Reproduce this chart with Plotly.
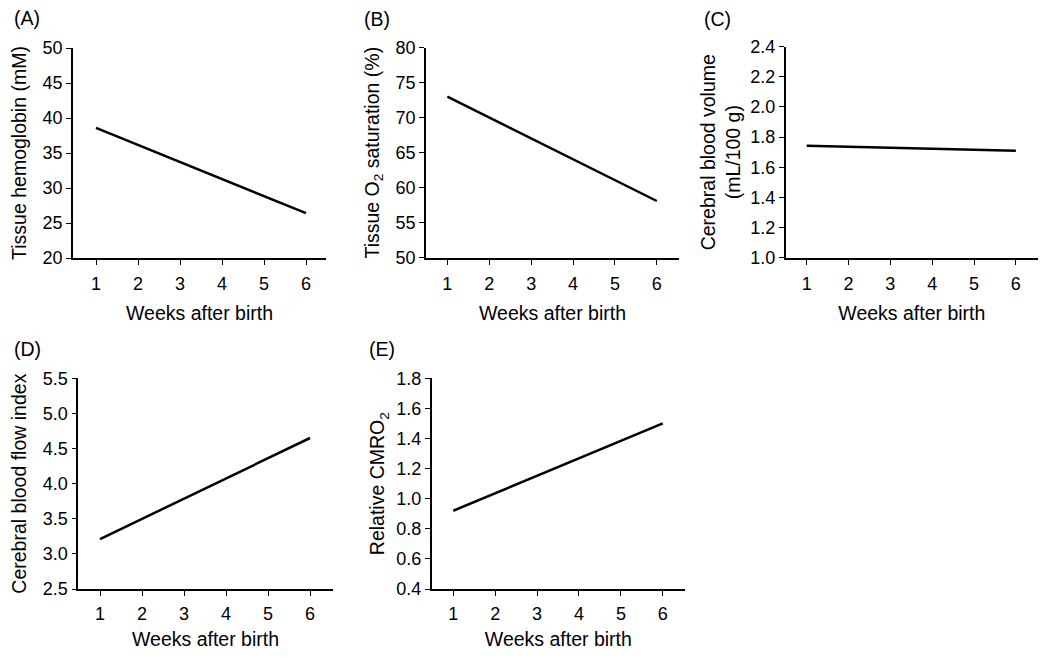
import plotly.graph_objects as go

weeks = [1, 6]
hemoglobin = [38.6, 26.4]
o2_saturation = [73.0, 58.1]
blood_volume = [1.743, 1.71]
blood_flow = [3.21, 4.65]
cmro2 = [0.92, 1.50]

panel_labels = ["(A)", "(B)", "(C)", "(D)", "(E)"]
y_titles = [
    "Tissue hemoglobin (mM)",
    "Tissue O<sub>2</sub> saturation (%)",
    "Cerebral blood volume<br>(mL/100 g)",
    "Cerebral blood flow index",
    "Relative CMRO<sub>2</sub>",
]
y_ranges = [[20, 50], [50, 80], [1.0, 2.4], [2.5, 5.5], [0.4, 1.8]]
y_dticks = [5, 5, 0.2, 0.5, 0.2]
y_formats = ["d", "d", ".1f", ".1f", ".1f"]
x_title = "Weeks after birth"
series = [hemoglobin, o2_saturation, blood_volume, blood_flow, cmro2]

# the page body adds an 8px margin; lay out in window pixels and compensate
OFF = 8
W, H = 1050 - OFF, 658 - OFF
# pixel boxes in window coords: (left, right, top, bottom)
boxes = [
    (73, 326, 48, 258),
    (426, 679, 47.7, 257.7),
    (785.7, 1038, 46.7, 257.7),
    (78.3, 332.7, 378.3, 589),
    (431.7, 685, 378.3, 589),
]
x_ranges = [[0.452, 6.476], [0.49, 6.53], [0.498, 6.53], [0.483, 6.54], [0.485, 6.53]]
label_pos = [(12, 18), (362, 19), (702, 19), (12, 349), (367, 349)]
y_standoffs = [11, 11, 4, 11, 6]
x_standoffs = [13, 13, 13, 9, 9]
x_label_standoffs = [4, 4, 4, 3, 3]

FONT = "Liberation Sans, Arial, Helvetica, sans-serif"
fig = go.Figure()
layout = dict(
    template="none",
    width=W, height=H,
    margin=dict(l=0, r=0, t=0, b=0, pad=0),
    paper_bgcolor="white", plot_bgcolor="white",
    showlegend=False,
    font=dict(family=FONT, color="black", size=18),
    annotations=[],
)


def px_x(v):
    return (v - OFF) / W


def px_y(v):
    return 1 - (v - OFF) / H


for i in range(5):
    n = "" if i == 0 else str(i + 1)
    l, r, t, b = boxes[i]
    fig.add_trace(go.Scatter(
        x=weeks, y=series[i], mode="lines",
        line=dict(color="black", width=2.5),
        xaxis="x" + n, yaxis="y" + n, hoverinfo="skip",
    ))
    layout["xaxis" + n] = dict(
        domain=[px_x(l), px_x(r)], anchor="y" + n, automargin=False,
        range=x_ranges[i], tickmode="array", tickvals=[1, 2, 3, 4, 5, 6],
        showline=True, linecolor="black", linewidth=1.6,
        ticks="outside", ticklen=5, tickwidth=1.2, tickcolor="black",
        showgrid=False, zeroline=False,
        tickfont=dict(size=18), ticklabelstandoff=x_label_standoffs[i],
        title=dict(text=x_title, font=dict(size=19.5), standoff=x_standoffs[i]),
    )
    layout["yaxis" + n] = dict(
        domain=[px_y(b), px_y(t)], anchor="x" + n, automargin=False,
        range=y_ranges[i], dtick=y_dticks[i], tick0=y_ranges[i][0],
        tickformat=y_formats[i],
        showline=True, linecolor="black", linewidth=1.6,
        ticks="outside", ticklen=5, tickwidth=1.2, tickcolor="black",
        showgrid=False, zeroline=False,
        tickfont=dict(size=18),
        title=dict(text=y_titles[i], font=dict(size=19.5), standoff=y_standoffs[i]),
    )
    lx, ly = label_pos[i]
    layout["annotations"].append(dict(
        text=panel_labels[i], x=px_x(lx), y=px_y(ly), xref="paper", yref="paper",
        xanchor="left", yanchor="middle", showarrow=False, font=dict(size=19.5),
    ))

fig.update_layout(**layout)
fig.write_html("out.html")
